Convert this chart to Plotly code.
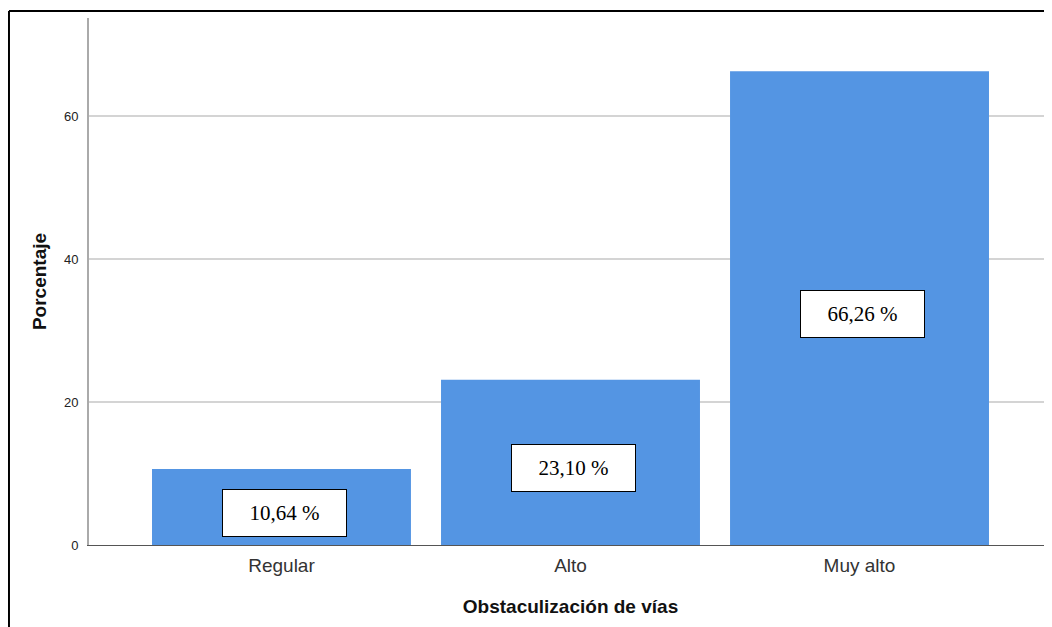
import plotly.graph_objects as go

categories = ["Regular", "Alto", "Muy alto"]
values = [10.64, 23.10, 66.26]
labels = ["10,64 %", "23,10 %", "66,26 %"]
y_ticks = [0, 20, 40, 60]

BAR_COLOR = "#5495e3"

fig = go.Figure()
fig.add_trace(go.Bar(
    x=categories, y=values, width=0.896,
    marker=dict(color=BAR_COLOR, line=dict(width=0)),
    hoverinfo="skip",
))

for c, v, t in zip(categories, values, labels):
    fig.add_annotation(
        x=c, y=v / 2, xref="x", yref="y", text=t, showarrow=False,
        xshift=3, yshift=-6,
        font=dict(family="Liberation Serif, Times New Roman, serif", size=21, color="black"),
        bgcolor="white", bordercolor="black", borderwidth=1, borderpad=1,
        width=121, height=44,
    )

# outer frame (top and left edges visible)
fig.add_shape(type="line", xref="paper", yref="paper",
              x0=-0.0831, x1=1.02, y0=1.0133, y1=1.0133,
              line=dict(color="black", width=2))
fig.add_shape(type="line", xref="paper", yref="paper",
              x0=-0.0831, x1=-0.0831, y0=1.0133, y1=-0.3,
              line=dict(color="black", width=2))

fig.update_layout(
    width=1044, height=619,
    margin=dict(l=81, r=0, t=10, b=82),
    paper_bgcolor="white", plot_bgcolor="white",
    showlegend=False,
    font=dict(family="Liberation Sans, Arial, sans-serif", color="#222"),
    xaxis=dict(
        range=[-0.666, 2.666], showgrid=False,
        showline=True, linecolor="#555", linewidth=1,
        ticks="", ticklabelstandoff=3, tickfont=dict(size=19, color="#333"),
        title=dict(text="<b>Obstaculización de vías</b>", font=dict(size=19, color="#111"), standoff=24),
        automargin=False, fixedrange=True,
    ),
    yaxis=dict(
        range=[0, 73.7], tickvals=y_ticks, ticktext=[str(v) for v in y_ticks],
        showgrid=True, gridcolor="#d4d4d4", gridwidth=2,
        showline=True, linecolor="#aaaaaa", linewidth=2,
        zeroline=False,
        ticks="", ticklabelstandoff=6, tickfont=dict(size=13, color="#222"),
        title=dict(text="<b>Porcentaje</b>", font=dict(size=19, color="#111"), standoff=12),
        automargin=False, fixedrange=True,
    ),
)

fig.write_html("out.html")
